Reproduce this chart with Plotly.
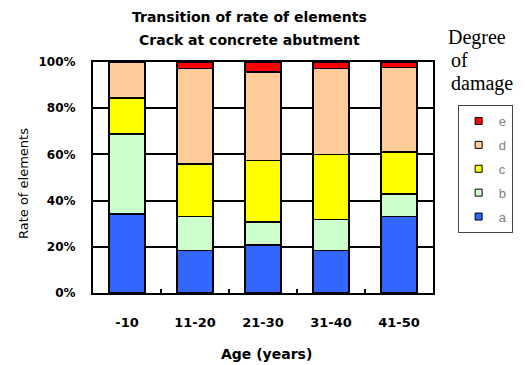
import plotly.graph_objects as go

# Age bands and share of elements (%) by degree of damage
ages = ["-10", "11-20", "21-30", "31-40", "41-50"]
grade_a = [34.1, 18.3, 20.7, 18.3, 33.1]
grade_b = [34.7, 14.8, 10.1, 13.6, 9.8]
grade_c = [15.7, 22.7, 26.5, 28.1, 18.1]
grade_d = [15.5, 41.3, 38.4, 37.1, 36.6]
grade_e = [0.0, 2.9, 4.3, 2.9, 2.4]

series = [
    ("a", grade_a, "#3366FF"),
    ("b", grade_b, "#CCFFCC"),
    ("c", grade_c, "#FFFF00"),
    ("d", grade_d, "#FFCC99"),
    ("e", grade_e, "#FF0000"),
]

W, H = 525, 365
L, R, T, B = 93, 87, 62, 72
pw, ph = W - L - R, H - T - B

def px(x):
    return (x - L) / pw

def py(y):
    return (H - B - y) / ph

sans = "DejaVu Sans"

fig = go.Figure()
for name, vals, color in series:
    fig.add_trace(go.Bar(
        x=ages, y=vals, name=name, width=0.53,
        marker=dict(color=color, line=dict(color="black", width=1.5)),
        showlegend=False,
    ))

# small square keys, highest grade listed first
for rank, (name, vals, color) in enumerate(reversed(series)):
    fig.add_trace(go.Scatter(
        x=[None], y=[None], mode="markers", name=name,
        legendgroup=name, legendrank=rank + 1,
        marker=dict(symbol="square", size=7, color=color,
                    line=dict(color="black", width=1)),
    ))

fig.update_layout(
    width=W, height=H,
    margin=dict(l=L, r=R, t=T, b=B, pad=0),
    barmode="stack",
    plot_bgcolor="white", paper_bgcolor="white",
    font=dict(family=sans, color="black"),
    showlegend=True,
    legend=dict(
        x=px(463), y=py(105), xanchor="left", yanchor="top",
        traceorder="grouped", tracegroupgap=4,
        bordercolor="#444444", borderwidth=1, bgcolor="white",
        font=dict(family="Liberation Sans", size=13, color="#808080"),
        itemwidth=30, valign="top",
    ),
    xaxis=dict(
        type="category", range=[-0.5, 4.5],
        showline=True, linecolor="black", linewidth=2, mirror=True,
        ticks="inside", tickson="boundaries", ticklen=4, tickcolor="black", tickwidth=1.5,
        ticklabelstandoff=16,
        tickfont=dict(family=sans, size=13, color="black", weight="bold"),
        showgrid=False,
    ),
    yaxis=dict(
        range=[0, 100], dtick=20, ticksuffix="%",
        showline=True, linecolor="black", linewidth=2, mirror=True,
        showgrid=True, gridcolor="black", gridwidth=1.5,
        ticks="", ticklabelstandoff=13,
        tickfont=dict(family=sans, size=12, color="black", weight="bold"),
    ),
)

annots = [
    ("Transition of rate of elements", 252, 17),
    ("Crack at concrete abutment", 252, 40),
    ("Age (years)", 269, 354),
]
for text, x, y in annots:
    fig.add_annotation(
        text=text, x=px(x), y=py(y), xref="paper", yref="paper",
        xanchor="center", yanchor="middle", showarrow=False,
        font=dict(family=sans, size=14, color="black", weight="bold"),
    )

fig.add_annotation(
    text="Rate of elements", x=px(22), y=py(184), xref="paper", yref="paper",
    xanchor="center", yanchor="middle", showarrow=False, textangle=-90,
    font=dict(family=sans, size=13, color="black"),
)

# legend heading, one word per line
for word, x, y in [("Degree", 451, 37), ("of", 454, 60), ("damage", 454, 83)]:
    fig.add_annotation(
        text=word, x=px(x), y=py(y), xref="paper", yref="paper",
        xanchor="left", yanchor="middle", showarrow=False,
        font=dict(family="Liberation Serif", size=20, color="black"),
    )

fig.write_html("out.html")
